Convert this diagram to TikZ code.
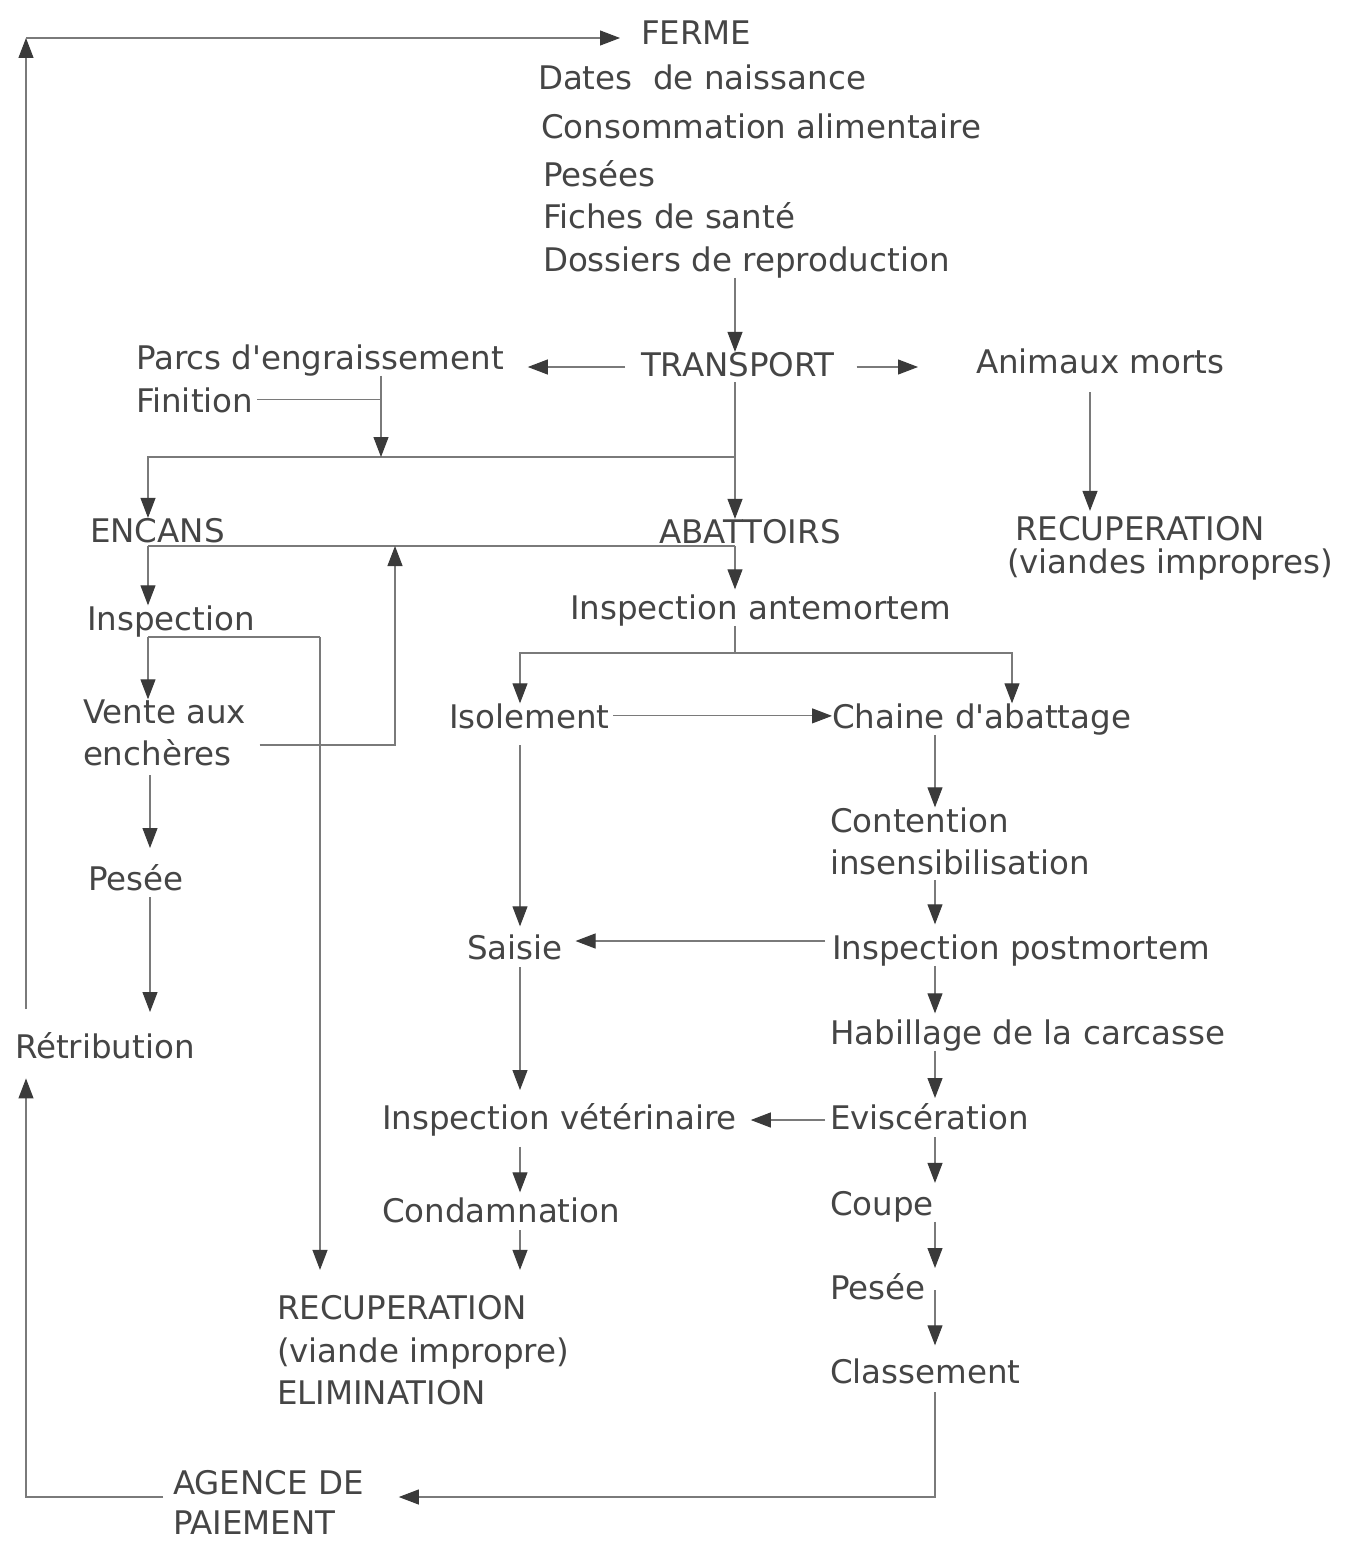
\documentclass[tikz,border=0pt]{standalone}
\usepackage{fontspec}
\setmainfont{DejaVu Sans}[Ligatures=TeXOff]
\usetikzlibrary{arrows.meta}
\definecolor{txtc}{HTML}{454545}
\definecolor{linec}{HTML}{7A7A7A}
\definecolor{arrc}{HTML}{3A3A3A}
\newcommand\lblfont{\fontsize{18.5}{24}\selectfont}
\tikzset{
  lbl/.style={anchor=base west, inner sep=0pt, outer sep=0pt, text=txtc, font=\lblfont},
  ln/.style={draw=linec, line width=0.6pt},
  arr/.style={ln, -{Triangle[length=0.4cm,width=0.3cm,color=arrc]}},
}
\begin{document}
\begin{tikzpicture}[x=0.02cm,y=-0.02cm]
\fill[white] (0,0) rectangle (1348,1541);
\useasboundingbox (0,0) rectangle (1348,1541);

% ---------- text nodes ----------
\node[lbl] (ferme) at (641,45) {FERME};
\node[lbl] (d1) at (538,90) {Dates~~de naissance};
\node[lbl] (d2) at (541,138) {Consommation alimentaire};
\node[lbl] (d3) at (543,186) {Pesées};
\node[lbl] (d4) at (543,228) {Fiches de santé};
\node[lbl] (d5) at (543,271) {Dossiers de reproduction};
\node[lbl] (transport) at (641,376) {TRANSPORT};
\node[lbl] (parcs) at (136,369) {Parcs d'engraissement};
\node[lbl] (finition) at (136,412) {Finition};
\node[lbl] (morts) at (976,373) {Animaux morts};
\node[lbl] (encans) at (90,542) {ENCANS};
\node[lbl] (abattoirs) at (659,543) {ABATTOIRS};
\node[lbl] (recA1) at (1015,540) {RECUPERATION};
\node[lbl] (recA2) at (1007,573) {(viandes impropres)};
\node[lbl] (insp) at (87,630) {Inspection};
\node[lbl] (antem) at (570,619) {Inspection antemortem};
\node[lbl] (vente1) at (83,723) {Vente aux};
\node[lbl] (vente2) at (83,765) {enchères};
\node[lbl] (isol) at (449,728) {Isolement};
\node[lbl] (chaine) at (832,728) {Chaine d'abattage};
\node[lbl] (cont1) at (830,832) {Contention};
\node[lbl] (cont2) at (830,874) {insensibilisation};
\node[lbl] (peseeL) at (88,890) {Pesée};
\node[lbl] (saisie) at (467,959) {Saisie};
\node[lbl] (postm) at (832,959) {Inspection postmortem};
\node[lbl] (retri) at (15,1058) {Rétribution};
\node[lbl] (habil) at (830,1044) {Habillage de la carcasse};
\node[lbl] (vet) at (382,1129) {Inspection vétérinaire};
\node[lbl] (evisc) at (830,1129) {Eviscération};
\node[lbl] (condam) at (382,1222) {Condamnation};
\node[lbl] (coupe) at (830,1215) {Coupe};
\node[lbl] (recB1) at (277,1319) {RECUPERATION};
\node[lbl] (recB2) at (277,1362) {(viande impropre)};
\node[lbl] (recB3) at (277,1404) {ELIMINATION};
\node[lbl] (peseeR) at (830,1299) {Pesée};
\node[lbl] (classe) at (830,1383) {Classement};
\node[lbl] (ag1) at (173,1494) {AGENCE DE};
\node[lbl] (ag2) at (173,1534) {PAIEMENT};

% ---------- routing columns and rows ----------
\coordinate (c26) at (26,0);
\coordinate (c148) at (148,0);
\coordinate (c150) at (150,0);
\coordinate (c320) at (320,0);
\coordinate (c381) at (381,0);
\coordinate (c395) at (395,0);
\coordinate (c520) at (520,0);
\coordinate (c735) at (735,0);
\coordinate (c935) at (935,0);
\coordinate (c1012) at (1012,0);
\coordinate (c1090) at (1090,0);
\coordinate (r38) at (0,38);
\coordinate (r367) at (0,367);
\coordinate (r457) at (0,457);
\coordinate (r546) at (0,546);
\coordinate (r637) at (0,637);
\coordinate (r653) at (0,653);
\coordinate (r745) at (0,745);
\coordinate (r941) at (0,941);
\coordinate (r1120) at (0,1120);
\coordinate (r1497) at (0,1497);

% ---------- connectors ----------
% outer loop to FERME
\draw[arr, shorten <=0.46cm] (retri.north -| c26) -- (c26 |- r38);
\draw[arr, shorten >=0.42cm] (c26 |- r38) -- (ferme.west |- r38);
\draw[arr, shorten <=0.2cm, shorten >=0.4cm] (ag1.west |- r1497) -- (c26 |- r1497) -- (retri.south -| c26);
\draw[arr, shorten <=0.18cm, shorten >=0.7cm] (classe.south -| c935) -- (c935 |- r1497) -- (ag1.east |- r1497);

% ferme -> transport
\draw[arr] (d5.south -| c735) -- (transport.north -| c735);
\draw[arr, shorten <=0.32cm, shorten >=0.48cm] (transport.west |- r367) -- (parcs.east |- r367);
\draw[arr, shorten <=0.44cm, shorten >=1.16cm] (transport.east |- r367) -- (morts.west |- r367);
\draw[arr, shorten <=0.38cm, shorten >=0.1cm] (morts.south -| c1090) -- (recA1.north -| c1090);

% transport -> encans / abattoirs
\draw[arr, shorten <=0.12cm] (transport.south -| c735) -- (abattoirs.north -| c735);
\draw[arr] (c735 |- r457) -- (c148 |- r457) -- (encans.north -| c148);
\draw[arr] (parcs.south -| c381) -- (c381 |- r457);
\draw[ln, shorten <=0.08cm] (finition.east) -- (finition.east -| c381);

% abattoirs row
\draw[ln] (c148 |- r546) -- (c735 |- r546);
\draw[arr] (c148 |- r546) -- (insp.north -| c148);
\draw[arr, shorten >=0.1cm] (c735 |- r546) -- (antem.north -| c735);
\draw[arr, shorten <=0.56cm] (vente2.east |- r745) -- (c395 |- r745) -- (c395 |- r546);

% encans branch
\draw[ln] (c148 |- r637) -- (c320 |- r637);
\draw[arr] (c148 |- r637) -- (vente1.north -| c148);
\draw[arr, shorten >=0.5cm] (c320 |- r637) -- (recB1.north -| c320);
\draw[arr, shorten <=0.2cm, shorten >=0.32cm] (vente2.south -| c150) -- (peseeL.north -| c150);
\draw[arr, shorten <=0.14cm, shorten >=0.4cm] (peseeL.south -| c150) -- (retri.north -| c150);

% abattoirs branch
\draw[ln] (antem.south -| c735) -- (c735 |- r653);
\draw[arr] (c735 |- r653) -- (c520 |- r653) -- (isol.north -| c520);
\draw[arr] (c735 |- r653) -- (c1012 |- r653) -- (chaine.north -| c1012);
\draw[arr, shorten <=0.08cm] (isol.east) -- (isol.east -| chaine.west);
\draw[arr, shorten <=0.34cm, shorten >=0.16cm] (isol.south -| c520) -- (saisie.north -| c520);
\draw[arr] (chaine.south -| c935) -- (cont1.north -| c935);
\draw[arr, shorten <=0.12cm, shorten >=0.2cm] (cont2.south -| c935) -- (postm.north -| c935);
\draw[arr, shorten <=0.14cm, shorten >=0.26cm] (postm.west |- r941) -- (saisie.east |- r941);
\draw[arr, shorten >=0.12cm] (postm.south -| c935) -- (habil.north -| c935);
\draw[arr, shorten >=0.1cm] (habil.south -| c935) -- (evisc.north -| c935);
\draw[arr, shorten <=0.1cm, shorten >=0.28cm] (evisc.west |- r1120) -- (vet.east |- r1120);
\draw[arr, shorten <=0.16cm, shorten >=0.26cm] (saisie.south -| c520) -- (vet.north -| c520);
\draw[arr, shorten <=0.16cm, shorten >=0.16cm] (evisc.south -| c935) -- (coupe.north -| c935);
\draw[arr, shorten >=0.1cm] (coupe.south -| c935) -- (peseeR.north -| c935);
\draw[arr, shorten <=-0.18cm, shorten >=0.26cm] (peseeR.south -| c935) -- (classe.north -| c935);
\draw[arr, shorten <=0.22cm, shorten >=0.1cm] (vet.south -| c520) -- (condam.north -| c520);
\draw[arr, shorten <=0.16cm, shorten >=0.5cm] (condam.south -| c520) -- (recB1.north -| c520);
\end{tikzpicture}
\end{document}
